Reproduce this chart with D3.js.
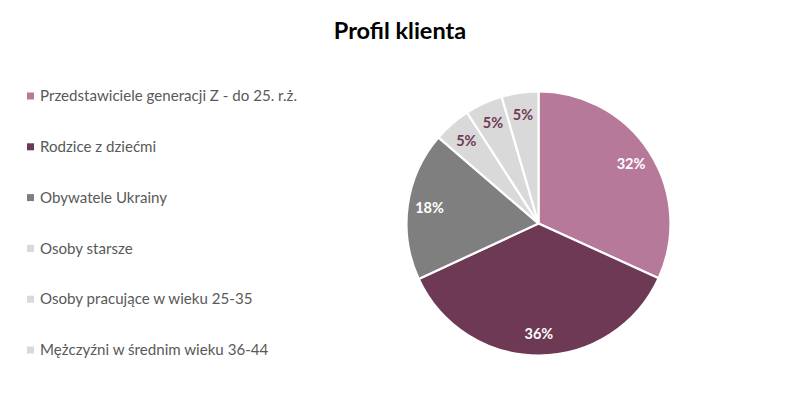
<!DOCTYPE html>
<html><head><meta charset="utf-8">
<script src="https://cdn.jsdelivr.net/npm/d3@7"></script>
<style>body{margin:0;background:#fff}</style>
</head><body>
<svg id="c" width="800" height="399"></svg>
<script>
const categories = ["Przedstawiciele generacji Z - do 25. r.ż.","Rodzice z dziećmi","Obywatele Ukrainy","Osoby starsze","Osoby pracujące w wieku 25-35","Mężczyźni w średnim wieku 36-44"];
const values = [31.8, 36.3, 18.2, 4.6, 4.6, 4.5];
const colors = ["#b7799a","#6d3955","#7f7f7f","#d9d9d9","#d9d9d9","#d9d9d9"];
const labelColors = ["#ffffff","#ffffff","#ffffff","#6d3955","#6d3955","#6d3955"];
const title = "Profil klienta";

const svg = d3.select("#c");
const font = "Lato, 'Open Sans', sans-serif";
svg.append("text").attr("x",400).attr("y",39).attr("text-anchor","middle")
  .attr("font-family",font).attr("font-weight","bold").attr("font-size",23.5).attr("fill","#000").text(title);

const cx = 538.5, cy = 223.5, r = 132;
const data = categories.map((c,i)=>({c, v:values[i], i}));
const pie = d3.pie().value(d=>d.v).sort(null);
const arc = d3.arc().innerRadius(0).outerRadius(r);
const labelArc = d3.arc().innerRadius(110).outerRadius(110);
const g = svg.append("g").attr("transform",`translate(${cx},${cy})`);
const arcs = pie(data);
g.selectAll("path").data(arcs).join("path").attr("d",arc)
  .attr("fill",d=>colors[d.data.i]).attr("stroke","#fff").attr("stroke-width",2.2).attr("stroke-linejoin","round");
g.selectAll("text").data(arcs).join("text")
  .attr("transform",d=>{const p=labelArc.centroid(d); return `translate(${p[0]},${p[1]})`;})
  .attr("text-anchor","middle").attr("dy","0.35em")
  .attr("font-family",font).attr("font-weight","bold").attr("font-size",14.5)
  .attr("fill",d=>labelColors[d.data.i])
  .text(d=>Math.round(d.data.v)+"%");

const leg = svg.append("g");
const ly = d3.scalePoint().domain(categories).range([96,350]);
categories.forEach((c,i)=>{
  leg.append("rect").attr("x",27).attr("y",ly(c)-3.5).attr("width",7).attr("height",7).attr("fill",colors[i]);
  leg.append("text").attr("x",40).attr("y",ly(c)).attr("dy","0.35em")
    .attr("font-family",font).attr("font-size",15.1).attr("fill","#595959").text(c);
});
</script>
</body></html>
